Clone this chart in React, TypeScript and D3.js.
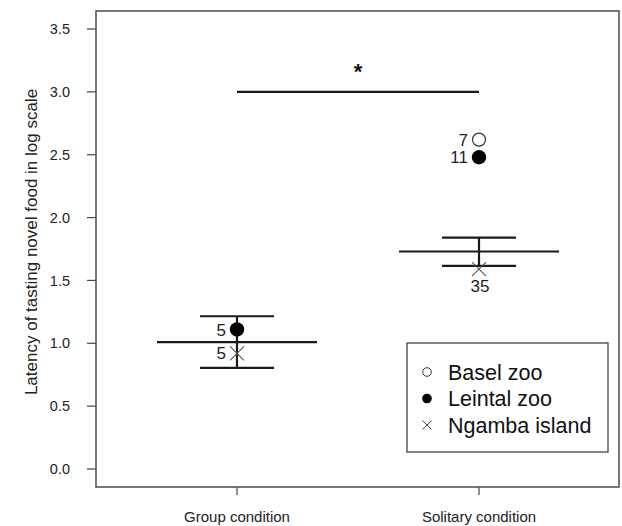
import React from "react";
import * as d3 from "d3";

// Conditions on the x axis
const conditions = ["Group condition", "Solitary condition"];
// Y axis ticks
const yTicks = [0, 0.5, 1.0, 1.5, 2.0, 2.5, 3.0, 3.5];

// Mean and error bounds per condition
const means = [1.01, 1.73];
const lowers = [0.805, 1.615];
const uppers = [1.215, 1.84];

// Site points: [conditionIndex, value, n]
const baselPts = [[1, 2.62, 7]];
const leintalPts = [[0, 1.11, 5], [1, 2.48, 11]];
const ngambaPts = [[0, 0.92, 5], [1, 1.59, 35]];

const legendItems = ["Basel zoo", "Leintal zoo", "Ngamba island"];
const sigLevel = 3.0;

const W = 622, H = 526;
const left = 96, right = 619, top = 11, bottom = 487;
const FONT = "Liberation Sans, Arial, Helvetica, sans-serif";

export default function App() {
  const y = d3.scaleLinear().domain([0, 3.5]).range([469, 29]);
  const x = d3.scalePoint().domain(conditions).range([237, 479]);
  const stroke = "#1a1a1a";

  const cross = (cx: number, cy: number, r: number, sw: number, color: string) => (
    <g stroke={color} strokeWidth={sw}>
      <line x1={cx - r} y1={cy - r} x2={cx + r} y2={cy + r} />
      <line x1={cx - r} y1={cy + r} x2={cx + r} y2={cy - r} />
    </g>
  );

  return (
    <svg width={W} height={H} style={{ position: "absolute", left: 0, top: 0, background: "#fff" }} fontFamily={FONT}>
      <rect x={0} y={0} width={W} height={H} fill="#fff" />
      {/* y axis ticks and labels */}
      {yTicks.map((t) => (
        <g key={t}>
          <line x1={87} x2={left} y1={y(t)} y2={y(t)} stroke="#444" strokeWidth={1.2} />
          <text x={70} y={y(t)} dy="0.35em" textAnchor="end" fontSize={14.5} fill="#222">
            {t.toFixed(1)}
          </text>
        </g>
      ))}
      <text
        transform={`translate(31,242) rotate(-90)`}
        textAnchor="middle"
        dy="0.35em"
        fontSize={17}
        fill="#222"
      >
        Latency of tasting novel food in log scale
      </text>
      {/* x axis ticks and labels */}
      {conditions.map((c) => (
        <g key={c}>
          <line x1={x(c)!} x2={x(c)!} y1={bottom} y2={495} stroke="#444" strokeWidth={1.2} />
          <text x={x(c)!} y={522} textAnchor="middle" fontSize={15} fill="#222">
            {c}
          </text>
        </g>
      ))}
      {/* plot frame */}
      <rect x={left} y={top} width={right - left} height={bottom - top} fill="none" stroke="#555" strokeWidth={1.6} />

      {/* significance bar */}
      <line x1={x(conditions[0])!} x2={x(conditions[1])!} y1={y(sigLevel)} y2={y(sigLevel)} stroke={stroke} strokeWidth={2.2} />
      <text x={358} y={79} textAnchor="middle" fontSize={22} fontWeight="bold" fill="#111">*</text>

      {/* means and error bars */}
      {conditions.map((c, i) => {
        const cx = x(c)!;
        return (
          <g key={c} stroke={stroke} strokeWidth={2.2}>
            <line x1={cx - 80} x2={cx + 80} y1={y(means[i])} y2={y(means[i])} />
            <line x1={cx - 37} x2={cx + 37} y1={y(uppers[i])} y2={y(uppers[i])} />
            <line x1={cx - 37} x2={cx + 37} y1={y(lowers[i])} y2={y(lowers[i])} />
            <line x1={cx} x2={cx} y1={y(uppers[i])} y2={y(lowers[i])} />
          </g>
        );
      })}

      {/* site points */}
      {baselPts.map(([ci, v, n], k) => {
        const cx = x(conditions[ci])!;
        return (
          <g key={"b" + k}>
            <circle cx={cx} cy={y(v)} r={6.5} fill="#fff" stroke="#333" strokeWidth={1.2} />
            <text x={cx - 11} y={y(v)} dy="0.36em" textAnchor="end" fontSize={17} fill="#222">{n}</text>
          </g>
        );
      })}
      {leintalPts.map(([ci, v, n], k) => {
        const cx = x(conditions[ci])!;
        return (
          <g key={"l" + k}>
            <circle cx={cx} cy={y(v)} r={7.2} fill="#000" />
            <text x={cx - 11} y={y(v)} dy="0.36em" textAnchor="end" fontSize={17} fill="#222">{n}</text>
          </g>
        );
      })}
      {ngambaPts.map(([ci, v, n], k) => {
        const cx = x(conditions[ci])!;
        return (
          <g key={"n" + k}>
            {cross(cx, y(v), 7, 1.1, "#555")}
            {ci === 0 ? (
              <text x={cx - 11} y={y(v)} dy="0.36em" textAnchor="end" fontSize={17} fill="#222">{n}</text>
            ) : (
              <text x={cx + 1} y={y(v) + 23} textAnchor="middle" fontSize={17} fill="#222">{n}</text>
            )}
          </g>
        );
      })}

      {/* legend */}
      <rect x={407} y={343} width={201} height={109} fill="#fff" stroke="#444" strokeWidth={1.3} />
      {legendItems.map((name, i) => {
        const ly = 372 + i * 26.5;
        return (
          <g key={name}>
            {i === 0 && <circle cx={427} cy={ly} r={4.3} fill="#fff" stroke="#333" strokeWidth={1} />}
            {i === 1 && <circle cx={427} cy={ly} r={4.8} fill="#000" />}
            {i === 2 && cross(427, ly, 4.5, 1, "#444")}
            <text x={448} y={ly} dy="0.36em" fontSize={21.5} fill="#111">{name}</text>
          </g>
        );
      })}
    </svg>
  );
}
